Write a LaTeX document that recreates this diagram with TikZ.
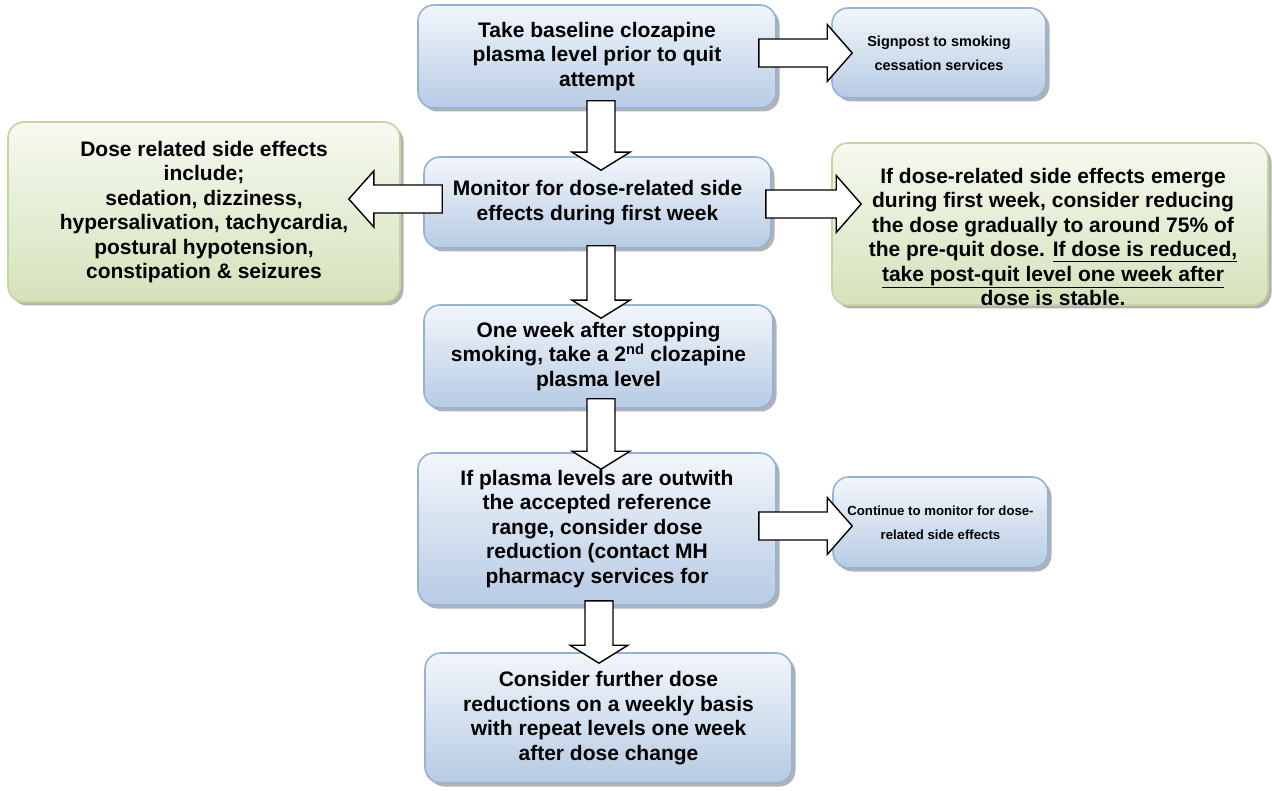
\documentclass[tikz,border=0pt]{standalone}
\usepackage{fontspec}
\setmainfont{Liberation Sans}
\usetikzlibrary{shadows,calc}
\definecolor{bluebord}{RGB}{149,179,215}
\definecolor{bluetop}{RGB}{242,246,251}
\definecolor{bluebot}{RGB}{183,203,228}
\definecolor{greenbord}{RGB}{195,214,155}
\definecolor{greentop}{RGB}{246,249,240}
\definecolor{greenbot}{RGB}{213,226,187}
\tikzset{
  box/.style={rectangle, rounded corners=16pt, line width=1.6pt, align=center,
    font=\fontsize{21}{24.5}\selectfont\bfseries, inner sep=0pt,
    drop shadow={shadow xshift=3.5pt, shadow yshift=-3.5pt, fill=black!55, opacity=0.55}},
  bluebox/.style={box, draw=bluebord, top color=bluetop, bottom color=bluebot},
  greenbox/.style={box, draw=greenbord, top color=greentop, bottom color=greenbot},
  smalltext/.style={font=\fontsize{14.5}{24}\selectfont\bfseries},
  smallertext/.style={font=\fontsize{13.2}{24}\selectfont\bfseries},
  boxtext/.style={align=center, font=\fontsize{21}{24.5}\selectfont\bfseries, inner sep=0pt},
  barrow/.style={draw=black, fill=white, line width=1.4pt, line join=miter}
}
\newcommand\blkdown[2]{\draw[barrow] let \p1=(#1), \p2=(#2) in
  (\x1-14pt,\y1) -- (\x1-14pt,\y2+18pt) -- (\x1-29pt,\y2+18pt) -- (\x1,\y2)
  -- (\x1+29pt,\y2+18pt) -- (\x1+14pt,\y2+18pt) -- (\x1+14pt,\y1) -- cycle;}
\newcommand\blkright[2]{\draw[barrow] let \p1=(#1), \p2=(#2) in
  (\x1,\y1+14pt) -- (\x2-25pt,\y1+14pt) -- (\x2-25pt,\y1+28.5pt) -- (\x2,\y1)
  -- (\x2-25pt,\y1-28.5pt) -- (\x2-25pt,\y1-14pt) -- (\x1,\y1-14pt) -- cycle;}
\newcommand\blkleft[2]{\draw[barrow] let \p1=(#1), \p2=(#2) in
  (\x1,\y1+14pt) -- (\x2+25pt,\y1+14pt) -- (\x2+25pt,\y1+28pt) -- (\x2,\y1)
  -- (\x2+25pt,\y1-28pt) -- (\x2+25pt,\y1-14pt) -- (\x1,\y1-14pt) -- cycle;}
\begin{document}
\begin{tikzpicture}[x=1pt,y=-1pt]
\useasboundingbox[fill=white] (0,0) rectangle (1272,791);
% boxes
\node[bluebox, minimum width=358pt, minimum height=103pt] (b1) at (597,56.5)
  {Take baseline clozapine\\plasma level prior to quit\\attempt};
\node[bluebox, smalltext, minimum width=214pt, minimum height=90pt] (b2) at (939,53)
  {Signpost to smoking\\cessation services};
\node[bluebox, minimum width=347pt, minimum height=91pt] (b3) at (597.5,202.5)
  {Monitor for dose-related side\\effects during first week};
\node[greenbox, minimum width=392pt, minimum height=180pt] (gl) at (204,212)
  {Dose related side effects\\include;\\sedation, dizziness,\\hypersalivation, tachycardia,\\postural hypotension,\\constipation \& seizures};
\node[greenbox, minimum width=436pt, minimum height=162pt] (gr) at (1050,224) {};
\node[boxtext] (grt) at (1053,237)
  {If dose-related side effects emerge\\during first week, consider reducing\\the dose gradually to around 75\% of\\the pre-quit dose. \underline{If dose is reduced,}\\\underline{take post-quit level one week after}\\dose is stable.};
\node[bluebox, minimum width=349pt, minimum height=103pt] (b6) at (598.5,356.5)
  {One week after stopping\\smoking, take a 2\textsuperscript{nd} clozapine\\plasma level};
\node[bluebox, minimum width=358pt, minimum height=152pt] (b7) at (597,529)
  {If plasma levels are outwith\\the accepted reference\\range, consider dose\\reduction (contact MH\\pharmacy services for};
\node[bluebox, smallertext, minimum width=215pt, minimum height=91pt] (b8) at (940.5,522.5)
  {Continue to monitor for dose-\\related side effects};
\node[bluebox, minimum width=367pt, minimum height=130pt] (b9) at (608.5,718)
  {Consider further dose\\reductions on a weekly basis\\with repeat levels one week\\after dose change};
% arrow end points
\coordinate (a1s) at ($(b1.south)+(4,-8)$);
\coordinate (a1e) at ($(b3.north)+(3.5,14)$);
\coordinate (a2s) at ($(b3.south)+(3.5,-3)$);
\coordinate (a2e) at ($(b6.north)+(2.5,14)$);
\coordinate (a3s) at ($(b6.south)+(2.5,-10)$);
\coordinate (a3e) at ($(b7.north)+(4,17)$);
\coordinate (a4s) at ($(b7.south)+(2,-5)$);
\coordinate (a4e) at ($(b9.north)+(-9.5,11)$);
\coordinate (r1s) at ($(b1.east)+(-18,-3.5)$);
\coordinate (r1e) at ($(b2.west)+(21,0)$);
\coordinate (r2s) at ($(b3.east)+(-6,1.5)$);
\coordinate (r2e) at ($(gr.west)+(30,0)$);
\coordinate (r3s) at ($(b7.east)+(-18,-3)$);
\coordinate (r3e) at ($(b8.west)+(20,0)$);
\coordinate (l1s) at ($(b3.west)+(19,-3.5)$);
\coordinate (l1e) at ($(gl.east)+(-52,0)$);
% block arrows
\blkdown{a1s}{a1e}
\blkdown{a2s}{a2e}
\blkdown{a3s}{a3e}
\blkdown{a4s}{a4e}
\blkright{r1s}{r1e}
\blkright{r2s}{r2e}
\blkright{r3s}{r3e}
\blkleft{l1s}{l1e}
\end{tikzpicture}
\end{document}
